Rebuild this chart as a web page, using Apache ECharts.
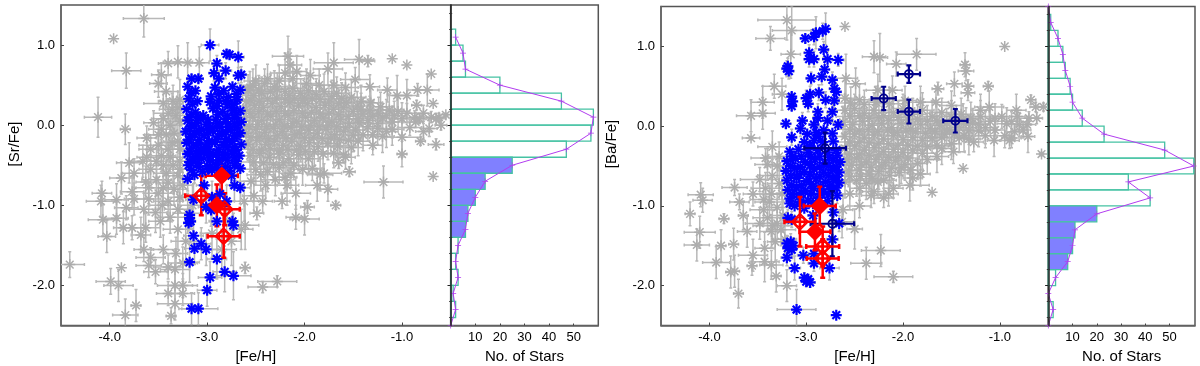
<!DOCTYPE html>
<html>
<head>
<meta charset="utf-8">
<style>html,body{margin:0;padding:0;background:#fff}#main{width:1200px;height:366px}</style>
<script src="https://cdn.jsdelivr.net/npm/echarts@6/dist/echarts.min.js"></script>
</head>
<body>
<div id="main"></div>
<script>
// rows are [Fe/H], [X/Fe], error in Fe/H, error in X/Fe
var srGray = [
[-3.65,1.33,.21,.23],[-3.96,1.08,0,0],[-3.83,.68,.15,.22],[-4.12,.1,.14,.25],[-3.84,-.05,.05,.19],
[-3.4,.77,.1,.15],[-3.3,.79,.15,.2],[-3.2,.78,.1,.25],[-3.08,.78,.1,.2],[-3.47,.63,.1,.15],[-3.5,.52,.09,.17],
[-3.42,.42,.12,.2],[-3.35,.3,.15,.2],[-3.45,.27,.2,.15],[-3.55,.03,.1,.15],[-3.32,.12,.15,.2],[-3.28,.32,.12,.25],
[-3.38,0,.12,.2],[-3.42,-.12,.18,.2],[-3.62,-.16,.1,.15],[-3.3,-.2,.15,.2],[-3.4,-.3,.15,.2],[-3.5,-.25,.2,.15],
[-3.62,-.4,.1,.18],[-3.66,-.45,.15,.2],[-3.8,-.47,.13,.25],[-3.35,-.5,.15,.2],[-3.45,-.5,.15,.2],[-3.75,-.6,.12,.18],
[-3.88,-.66,.12,.2],[-3.3,-.63,.15,.2],[-3.52,-.68,.15,.2],[-3.4,-.72,.12,.2],[-3.63,-.71,.1,.2],[-3.25,-.75,.1,.2],
[-4.41,-1.74,.15,.16],[-3.99,-1.95,.15,.16],[-3.91,-2,.15,.2],[-3.88,-1.78,0,0],[-3.73,-2.25,.05,.2],[-3.84,-2.37,.13,.2],
[-4.03,-1.39,.09,.2],[-4.07,-1.18,.15,.2],[-4.09,-.95,.15,.2],[-4.08,-.85,.1,.15],[-3.93,-.93,.12,.2],[-3.93,-1.16,.12,.2],
[-3.83,-1.03,.12,.15],[-3.86,-1.28,.1,.2],[-3.77,-1.28,.12,.15],[-3.77,-.83,.12,.2],[-3.75,-.92,.1,.2],[-3.68,-1.37,.1,.22],
[-3.63,-1.28,.15,.18],[-3.65,-1.05,.15,.2],[-3.53,-1.09,.12,.25],[-3.38,-1.15,.15,.2],[-3.45,-1.55,.12,.18],[-3.65,-1.55,.1,.15],
[-3.58,-1.65,.15,.12],[-3.6,-1.75,.13,.15],[-3.53,-1.83,.12,.15],[-3.4,-1.77,.15,.15],[-3.33,-1.8,.15,.2],[-3.4,-2.1,.12,.15],
[-3.33,-2,.18,.2],[-3.25,-2,.15,.15],[-3.25,-2.1,.12,.15],[-3.33,-2.23,.18,.2],[-3.37,-2.38,.05,.1],[-3.48,-1.2,.12,.2],
[-3.3,-1.3,.15,.25],[-3.22,-1.45,.15,.25],[-3.32,-1.6,.12,.2],[-3.25,-1.72,.15,.2],[-3.5,-.85,.15,.2],[-3.6,-.92,.12,.2],
[-3.4,-.95,.15,.25],[-3.28,-.9,.12,.2],[-3.15,-1,.15,.25],[-3.2,-1.1,.15,.25],[-2.95,-1.35,.12,.3],[-2.85,-1.55,.15,.25],
[-2.75,-1.45,.1,.3],[-2.65,-1.3,.12,.25],[-2.8,-1.2,.1,.25],[-2.61,-1.78,.05,.07],[-2.61,-1.25,.14,.3],[-2.49,-1.1,.07,.08],
[-2.43,-.95,.1,.15],[-2.23,-.95,.08,.09],[-2.09,-.85,.15,.2],[-2.43,-2.02,.15,.07],[-2.28,-1.95,.2,.07],[-2.09,-1.15,.1,.15],
[-1.97,-1.02,.07,.08],[-1.68,-1,.05,.05],[-1.76,-.8,.1,.15],[-2,-1.17,.15,.2],[-1.87,-.75,.12,.2],[-1.19,-.71,.2,.2],
[-.68,-.64,0,0],[-1.54,-.58,.06,.06],[-1.84,-.62,.13,.2],[-1.8,-.6,.18,.12],[-1.92,-.54,.1,.15],[-1.65,-.47,.06,.07],
[-1.6,-.37,.07,.09],[-1,-.36,.05,.16],[-.65,-.24,.08,.07],[-.81,-.2,.05,.05],[-1.3,-.25,.1,.12],[-1,-.15,.2,.25],
[-.68,.27,0,0],[-.7,.64,0,0],[-.95,.75,0,0],[-1.1,.83,0,0],[-1.35,.8,.07,.07],[-1.44,.82,.15,.25],[-1.7,.78,.2,.25],
[-1.76,.7,.15,.2],[-1.94,.62,.1,.2],[-1.48,.57,.15,.15],[-1.33,.48,.1,.15],[-1.15,.44,.1,.15],[-.84,.44,.1,.08],[-.74,.44,.12,.2],
[-.95,.37,.12,.2],[-1.05,.37,.1,.25],[-.85,.25,.05,.06],[-.55,.13,.02,.02],[-.87,.1,.1,.08],[-.65,.08,.1,.07],[-.7,.1,.08,.07],
[-.6,0,.06,.06],[-.86,.04,.08,.07],[-.62,.1,.07,.05],[-.82,.08,.06,.06],[-.72,-.04,.08,.1],[-.92,-.03,.12,.1],
[-2.17,.86,.16,.25],[-2.15,.75,.12,.2],[-2.2,.65,.15,.25],[-2.08,.67,.1,.2],[-2.53,.5,.12,.2],[-2.41,.52,.12,.18],[-2.58,.43,.1,.2],
[-2.6,.3,.14,.18],[-2.52,.37,.12,.2],[-2.44,.4,.16,.2],[-2.35,.42,.15,.22],[-2.28,.45,.12,.2],[-2.2,.42,.16,.25],[-2.12,.46,.12,.2],
[-2.04,.4,.15,.18],[-1.96,.43,.14,.22],[-1.88,.38,.12,.2],[-1.8,.42,.15,.22],[-1.72,.36,.16,.2],[-1.62,.33,.14,.2],[-1.52,.35,.15,.22],
[-1.42,.3,.13,.2],[-1.32,.28,.12,.2],[-1.22,.23,.14,.18],[-1.13,.19,.15,.2],[-1.04,.17,.12,.2],
[-2.6,.2,.15,.2],[-2.51,.25,.12,.18],[-2.42,.22,.14,.2],[-2.33,.27,.16,.2],[-2.24,.23,.13,.22],[-2.15,.28,.15,.2],[-2.06,.24,.12,.2],
[-1.97,.27,.14,.18],[-1.88,.22,.15,.2],[-1.79,.25,.13,.2],[-1.7,.2,.14,.22],[-1.6,.22,.13,.18],[-1.5,.17,.15,.2],[-1.4,.14,.14,.2],
[-1.3,.11,.12,.2],[-1.2,.09,.15,.18],[-1.1,.04,.12,.2],
[-2.62,.05,.16,.2],[-2.53,.1,.13,.18],[-2.44,.06,.15,.22],[-2.35,.11,.14,.2],[-2.26,.07,.15,.18],[-2.17,.12,.12,.2],[-2.08,.05,.16,.2],
[-1.99,.1,.14,.22],[-1.9,.06,.15,.18],[-1.81,.09,.12,.2],[-1.72,.04,.14,.2],[-1.63,.07,.15,.18],[-1.54,.02,.13,.2],[-1.44,.03,.14,.2],
[-1.35,-.02,.12,.18],[-1.25,-.04,.13,.2],[-1.16,-.08,.12,.2],
[-2.6,-.1,.14,.2],[-2.5,-.05,.15,.18],[-2.41,-.09,.13,.2],[-2.32,-.04,.16,.22],[-2.23,-.08,.14,.18],[-2.14,-.03,.13,.2],[-2.05,-.1,.15,.2],
[-1.96,-.06,.12,.18],[-1.87,-.1,.14,.2],[-1.78,-.05,.15,.2],[-1.69,-.12,.13,.18],[-1.6,-.08,.14,.2],[-1.5,-.13,.12,.2],[-1.4,-.12,.14,.2],
[-2.58,-.24,.14,.2],[-2.49,-.19,.15,.2],[-2.4,-.24,.13,.18],[-2.31,-.2,.14,.22],[-2.22,-.25,.15,.2],[-2.13,-.2,.12,.18],[-2.04,-.26,.14,.2],
[-1.95,-.22,.13,.2],[-1.86,-.27,.15,.18],[-1.76,-.23,.13,.2],[-1.66,-.26,.12,.2],
[-2.56,-.38,.14,.2],[-2.46,-.35,.12,.2],[-2.36,-.4,.15,.18],[-2.26,-.36,.14,.22],[-2.16,-.42,.13,.2],[-2.06,-.37,.15,.2],[-1.96,-.42,.12,.18],
[-2.5,-.55,.15,.2],[-2.38,-.58,.12,.25],[-2.26,-.53,.14,.2],[-2.14,-.6,.12,.18],[-2.02,-.55,.14,.2],[-2.55,-.7,.15,.25],[-2.4,-.75,.12,.2],
[-2.3,-.68,.15,.2],[-2.18,-.75,.12,.25],[-2.52,-.88,.12,.22],[-2.62,-.95,.15,.25],
[-2.56,.47,.13,.2],[-2.47,.44,.12,.18],[-2.31,.48,.14,.2],[-2.16,.37,.13,.2],[-2,.34,.12,.18],[-1.84,.32,.15,.2],[-1.67,.4,.13,.2],[-1.57,.28,.12,.2],[-1.46,.24,.14,.18],
[-2.55,.31,.14,.2],[-2.46,.3,.13,.18],[-2.38,.33,.12,.2],[-2.29,.34,.15,.2],[-2.2,.32,.13,.18],[-2.1,.33,.14,.2],[-2.02,.31,.12,.2],[-1.92,.33,.15,.18],[-1.75,.29,.13,.2],[-1.65,.27,.14,.2],
[-2.56,.15,.13,.18],[-2.47,.17,.14,.2],[-2.38,.14,.12,.2],[-2.29,.17,.15,.18],[-2.2,.15,.13,.2],[-2.11,.18,.14,.2],[-2.02,.15,.12,.18],[-1.93,.16,.15,.2],[-1.84,.14,.13,.2],[-1.75,.15,.14,.18],[-1.65,.13,.12,.2],[-1.55,.11,.14,.2],[-1.45,.08,.13,.18],[-1.35,.06,.12,.2],[-1.25,.02,.14,.18],
[-2.57,-.02,.14,.2],[-2.48,.01,.12,.18],[-2.39,-.02,.15,.2],[-2.3,.01,.13,.2],[-2.21,-.01,.14,.18],[-2.12,.02,.12,.2],[-2.03,-.02,.15,.2],[-1.94,0,.13,.18],[-1.85,-.02,.14,.2],[-1.76,0,.12,.2],[-1.67,-.02,.14,.18],[-1.58,-.03,.13,.2],[-1.48,-.06,.12,.2],
[-2.55,-.15,.13,.2],[-2.46,-.14,.14,.18],[-2.37,-.17,.12,.2],[-2.28,-.13,.15,.2],[-2.19,-.16,.13,.18],[-2.1,-.12,.14,.2],[-2,-.16,.12,.2],[-1.91,-.15,.15,.18],[-1.82,-.17,.13,.2],[-1.73,-.16,.14,.2],[-1.64,-.18,.12,.18],[-1.55,-.19,.13,.2],
[-2.53,-.3,.13,.2],[-2.44,-.31,.14,.18],[-2.35,-.29,.12,.2],[-2.26,-.31,.15,.2],[-2.17,-.3,.13,.18],[-2.08,-.31,.14,.2],[-1.99,-.33,.12,.2],[-1.9,-.33,.14,.18],[-1.81,-.36,.13,.2],
[-2.52,-.46,.13,.2],[-2.42,-.47,.14,.18],[-2.32,-.49,.12,.2],[-2.22,-.47,.14,.2],[-2.11,-.5,.13,.18],[-2.45,-.62,.14,.2],[-2.2,-.65,.12,.2],
[-3.36,.2,.13,.2],[-3.28,.05,.14,.18],[-3.45,.08,.12,.2],[-3.34,-.1,.15,.2],[-3.47,-.05,.13,.18],[-3.28,-.3,.14,.2],[-3.47,-.38,.15,.2],[-3.38,-.4,.13,.18],[-3.28,-.45,.14,.2],[-3.42,-.6,.13,.2],[-3.58,-.55,.12,.18],[-3.28,-.55,.14,.2],
[-3.5,-.12,.14,.2],[-3.58,-.3,.12,.18],[-3.36,-.22,.14,.2],[-3.3,.22,.13,.2],[-3.4,.15,.15,.18],[-3.52,-.45,.14,.2],[-3.34,-.8,.14,.2],[-3.45,-.78,.12,.22],[-3.6,-.78,.13,.2],[-3.3,-1.05,.14,.25],[-3.46,-1,.13,.2],
[-2.5,.55,.12,.2],[-2.38,.58,.13,.18],[-2.26,.55,.12,.2],[-2.12,.58,.12,.2],[-1.98,.52,.13,.18],[-1.85,.5,.14,.2],[-1.7,.5,.12,.2],[-1.58,.47,.13,.18],
[-1.42,.2,.13,.2],[-1.33,.18,.12,.18],[-1.24,.15,.13,.2],[-1.16,.12,.12,.2],[-1.08,.12,.12,.18],[-1,.08,.12,.2],[-1.3,-.12,.12,.18],[-1.2,-.14,.12,.2],[-1.1,-.05,.12,.2],[-1.45,-.2,.12,.18],[-1.52,-.28,.12,.2],[-1.7,-.35,.13,.18],[-1.58,-.4,.1,.15],
[-.95,.15,.1,.12],[-.78,.15,.08,.1],[-.78,-.08,.08,.1]
];
var srBlue = [
[-2.97,1,.09,.2],[-2.8,.89,.05,.05],[-2.77,.88,.05,.05],[-2.68,.85,.06,.2],[-2.9,.77,.05,.1],[-2.81,.68,.06,.1],[-2.93,.65,.05,.1],
[-2.68,.62,.05,.1],[-2.65,.63,.05,.1],[-2.88,.58,.05,.1],[-3.16,.58,.05,.05],[-3.09,.58,.05,.05],
[-3.2,.48,0,0],[-3.12,.43,0,0],[-2.92,.47,0,0],[-2.83,.43,0,0],[-2.74,.48,0,0],[-2.66,.44,0,0],
[-3.19,.33,0,0],[-3.1,.3,0,0],[-2.96,.36,0,0],[-2.88,.31,0,0],[-2.78,.35,0,0],[-2.69,.32,0,0],
[-3.21,.2,0,0],[-3.12,.16,0,0],[-3.04,.12,0,0],[-2.94,.21,0,0],[-2.84,.17,0,0],[-2.75,.22,0,0],[-2.66,.18,0,0],
[-3.2,.06,0,0],[-3.11,.03,0,0],[-3.01,.01,0,0],[-2.91,.07,0,0],[-2.81,.04,0,0],[-2.72,.09,0,0],[-2.65,.04,0,0],
[-3.22,-.08,0,0],[-3.13,-.11,0,0],[-3.03,-.13,0,0],[-2.94,-.07,0,0],[-2.85,-.11,0,0],[-2.76,-.06,0,0],[-2.66,-.1,0,0],
[-3.21,-.22,0,0],[-3.11,-.25,0,0],[-3.02,-.27,0,0],[-2.92,-.21,0,0],[-2.83,-.25,0,0],[-2.74,-.2,0,0],[-2.65,-.24,0,0],
[-3.2,-.36,0,0],[-3.12,-.39,0,0],[-3.03,-.34,0,0],[-2.94,-.37,0,0],[-2.84,-.4,0,0],[-2.75,-.35,0,0],[-2.67,-.38,0,0],
[-3.19,-.5,0,0],[-3.1,-.47,0,0],[-3,-.51,0,0],[-2.91,-.49,0,0],[-2.81,-.52,0,0],[-2.72,-.5,0,0],[-2.66,-.54,0,0],
[-3.16,.4,0,0],[-3.15,.26,0,0],[-2.88,.39,0,0],[-2.79,.26,0,0],[-2.7,.39,0,0],[-2.97,.29,0,0],[-3.16,.13,0,0],[-3.07,.08,0,0],[-2.89,.13,0,0],[-2.79,.12,0,0],[-2.7,.13,0,0],
[-3.16,-.01,0,0],[-3.06,-.05,0,0],[-2.97,-.03,0,0],[-2.87,-.02,0,0],[-2.78,-.02,0,0],[-2.69,-.03,0,0],
[-3.17,-.15,0,0],[-3.08,-.18,0,0],[-2.98,-.2,0,0],[-2.89,-.14,0,0],[-2.8,-.17,0,0],[-2.7,-.14,0,0],
[-3.16,-.29,0,0],[-3.07,-.31,0,0],[-2.98,-.3,0,0],[-2.88,-.3,0,0],[-2.79,-.28,0,0],[-2.7,-.31,0,0],
[-3.15,-.43,0,0],[-3.06,-.42,0,0],[-2.97,-.44,0,0],[-2.88,-.44,0,0],[-2.79,-.44,0,0],[-2.7,-.45,0,0],
[-3.16,-.56,0,0],[-3.05,-.58,0,0],[-2.95,-.56,0,0],[-2.86,-.58,0,0],[-2.77,-.57,0,0],
[-3.18,.1,0,0],[-3.18,-.04,0,0],[-3.18,-.18,0,0],[-3.18,-.33,0,0],[-3.18,-.46,0,0],[-3.09,.1,0,0],[-3.09,-.07,0,0],[-3.09,-.22,0,0],[-3.09,-.35,0,0],[-3.09,-.52,0,0],
[-2.99,.07,0,0],[-2.99,-.09,0,0],[-2.99,-.24,0,0],[-2.99,-.38,0,0],[-2.99,-.55,0,0],[-2.9,.24,0,0],[-2.9,.02,0,0],[-2.9,-.18,0,0],[-2.9,-.34,0,0],[-2.9,-.53,0,0],
[-2.81,.3,0,0],[-2.81,.08,0,0],[-2.81,-.08,0,0],[-2.81,-.21,0,0],[-2.81,-.36,0,0],[-2.72,.27,0,0],[-2.72,.02,0,0],[-2.72,-.13,0,0],[-2.72,-.27,0,0],[-2.72,-.4,0,0],[-2.72,.18,0,0],
[-3.2,-.67,.06,.15],[-3.13,-.62,.06,.1],[-2.75,-.63,.06,.1],[-3.03,-.75,.08,.2],[-2.72,-.75,.08,.2],[-2.66,-.78,.1,.2],
[-3.14,-.93,.08,.2],[-2.95,-.9,.08,.2],[-2.8,-.95,.08,.2],[-2.87,-.86,.06,.2],[-3.01,-1.02,.08,.2],[-2.96,-1.06,.08,.2],
[-3.18,-1.12,.05,.1],[-3.18,-1.16,.05,.1],[-3.17,-1.2,.05,.1],[-3.19,-1.22,.05,.1],[-2.9,-1.2,.08,.2],[-2.74,-1.2,.06,.15],[-2.73,-1.25,.06,.15],
[-3.14,-1.38,.1,.2],[-3.06,-1.48,.1,.2],[-3.13,-1.54,.1,.2],[-3.01,-1.55,.12,.2],[-3.18,-1.71,.1,.25],[-2.9,-1.67,.1,.25],
[-2.97,-1.9,.12,.2],[-3,-2.06,.1,.2],[-3.16,-2.29,.1,.2],[-3.09,-2.29,.2,.2],[-2.82,-1.83,.12,.25],[-2.73,-1.88,.18,.3]
];
var srRed = [[-2.85,-.63,.165,.19],[-3.06,-.88,.165,.245],[-2.9,-1,.11,.26],[-2.82,-1.05,.155,.2],[-2.83,-1.385,.165,.27]];
var srRedFilled = [0, 2];

var baGray = [
[-3.2,1.33,.3,.25],[-3.15,1.2,.2,.3],[-3.37,1.1,.15,.15],[-2.6,1.25,0,0],[-3.16,.9,.1,.3],[-3.33,.5,.12,.15],[-3.45,.3,.12,.2],
[-3.25,.4,.1,.2],[-3.57,.13,.15,.2],[-3.45,.16,.13,.2],[-3.57,-.15,.09,.02],[-3.35,-.26,.15,.2],[-3.42,-.4,.15,.12],[-3.48,-.67,.2,.15],
[-3.3,-.5,.12,.15],[-3.35,-.62,.15,.2],[-3.28,-.72,.12,.2],[-3.42,-.78,.15,.2],[-3.25,-.85,.12,.2],[-3.55,-.85,.1,.15],
[-2.3,.87,.12,.2],[-2.24,.86,.08,.3],[-2.07,.78,.1,.15],[-2.59,.6,.12,.3],[-2.49,.53,.1,.2],[-2.6,.35,.12,.25],[-2.45,.33,.1,.2],
[-2.11,.45,.1,.18],[-2.26,.45,.12,.2],[-1.86,.9,.2,.2],[-1.36,.77,.05,.15],[-1.35,.69,.08,.12],[-.95,1,0,0],[-1.12,.5,.05,.06],
[-1.64,.47,.06,.08],[-1.47,.53,.08,.15],[-1.33,.5,.06,.08],[-1.33,.42,.07,.1],[-.68,.33,.05,.06],[-.83,.2,.1,.2],[-.63,.24,.06,.06],
[-.55,.24,.05,.05],[-1.11,.24,.15,.2],[-1.2,.2,.1,.2],[-.88,-.15,.1,.12],[-.9,-.18,.1,.1],[-.71,-.13,.07,.2],[-1.05,-.05,.1,.15],
[-.7,.1,.1,.08],[-.57,-.35,.02,.02],[-1.38,-.53,0,0],[-1.06,-.18,.07,.2],[-1.27,-.2,.1,.12],[-1.5,-.22,.1,.2],[-1.48,-.32,.12,.15],
[-1.6,-.28,.12,.2],[-1.85,-.47,.1,.2],[-1.82,-.6,.1,.15],[-1.9,-.65,.1,.15],[-.93,.03,.1,.2],[-.8,.02,.12,.15],[-.62,.1,.06,.07],[-.85,-.07,.1,.1],
[-1.7,-.83,0,0],[-1.93,-.74,.2,.2],[-4.2,-1.1,.05,.15],[-4.1,-1.33,.16,.2],[-4.13,-1.49,.13,.2],[-4.09,-.86,.13,.15],[-4.07,-.93,.1,.15],
[-3.85,-1.16,.05,.06],[-3.65,-1.12,.05,.18],[-3.74,-.77,.13,.1],[-3.69,-.95,.1,.1],[-3.61,-1.32,.1,.2],[-3.88,-1.5,.05,.2],[-3.75,-1.48,.05,.2],
[-3.93,-1.71,.14,.2],[-3.78,-1.83,.05,.2],[-3.74,-1.82,.05,.2],[-3.7,-2.1,.05,.18],[-3.55,-1.62,.15,.2],[-3.56,-1.75,.05,.12],[-3.43,-1.53,.1,.2],
[-3.43,-1.7,.15,.25],[-3.36,-1.74,.12,.18],[-3.31,-1.88,.05,.2],[-3.2,-2,.1,.2],[-3.48,-1.22,.15,.2],[-3.38,-.95,.15,.2],[-3.35,-1.25,.2,.2],
[-3.4,-1.15,.15,.15],[-3.3,-1.22,.15,.2],[-3.26,-1.3,.15,.2],[-3.36,-1.32,.12,.2],[-3.32,-1.45,.08,.25],[-3.22,-1.42,.12,.2],
[-2.38,-1.72,.16,.2],[-2.23,-1.56,.2,.2],[-2.1,-1.89,.2,.07],[-2.5,-1.29,.08,.25],[-2.62,-1.05,.1,.2],[-2.45,-1,.12,.15],[-2.33,-.87,.1,.15],
[-2.2,-.9,.1,.12],[-2.3,-.82,.12,.15],[-2.63,-1.2,.12,.2],[-2.45,-.78,.1,.15],[-2.55,-.85,.12,.2],[-2.1,-.78,.1,.12],[-2.15,-.85,.1,.15],
[-2.6,.2,.15,.2],[-2.5,.22,.12,.18],[-2.4,.16,.14,.2],[-2.3,.2,.15,.22],[-2.2,.13,.12,.2],[-2.1,.17,.14,.2],[-2,.22,.12,.18],[-1.9,.15,.14,.2],
[-1.8,.2,.12,.22],[-1.7,.12,.13,.2],[-1.6,.17,.12,.18],[-1.5,.12,.14,.2],[-1.4,.15,.13,.2],[-1.3,.1,.12,.2],[-1.2,.12,.13,.2],[-1.1,.06,.12,.18],
[-2.62,.05,.14,.2],[-2.52,.02,.13,.2],[-2.42,.06,.15,.18],[-2.32,.01,.13,.2],[-2.22,.03,.14,.22],[-2.12,-.02,.12,.2],[-2.02,.03,.14,.18],[-1.92,-.03,.13,.2],
[-1.82,.02,.12,.2],[-1.72,-.03,.15,.2],[-1.62,.01,.12,.18],[-1.52,-.05,.14,.2],[-1.42,-.02,.12,.2],[-1.32,-.05,.13,.18],[-1.22,-.06,.12,.2],
[-2.6,-.13,.15,.2],[-2.5,-.1,.13,.18],[-2.4,-.15,.14,.2],[-2.3,-.11,.15,.2],[-2.2,-.16,.13,.22],[-2.1,-.12,.14,.2],[-2,-.17,.12,.18],[-1.9,-.14,.15,.2],
[-1.8,-.18,.13,.2],[-1.7,-.15,.12,.18],[-1.6,-.14,.14,.2],
[-2.6,-.28,.14,.2],[-2.5,-.25,.15,.2],[-2.4,-.3,.13,.18],[-2.3,-.27,.14,.2],[-2.2,-.32,.15,.22],[-2.1,-.29,.12,.2],[-2,-.33,.14,.18],[-1.9,-.3,.12,.2],[-1.8,-.34,.14,.2],
[-2.58,-.42,.15,.2],[-2.48,-.4,.13,.18],[-2.38,-.45,.14,.2],[-2.28,-.42,.15,.22],[-2.18,-.46,.12,.2],[-2.08,-.43,.14,.2],[-1.98,-.48,.13,.2],
[-2.56,-.56,.13,.2],[-2.45,-.55,.14,.18],[-2.35,-.6,.15,.2],[-2.25,-.57,.12,.22],[-2.14,-.62,.14,.2],[-2.04,-.58,.12,.18],
[-2.6,-.7,.12,.2],[-2.48,-.68,.14,.2],[-2.38,-.72,.12,.2],[-2.26,-.7,.14,.2],
[-2.55,.12,.14,.2],[-2.45,.13,.12,.18],[-2.35,.1,.15,.2],[-2.25,.11,.13,.2],[-2.15,.07,.14,.18],[-2.05,.11,.12,.2],[-1.95,.08,.14,.2],[-1.85,.09,.13,.18],[-1.75,.06,.12,.2],[-1.65,.07,.14,.2],[-1.55,.04,.13,.18],[-1.45,.06,.12,.2],[-1.35,.03,.14,.2],
[-2.55,-.04,.13,.2],[-2.45,-.06,.14,.18],[-2.36,-.04,.12,.2],[-2.26,-.07,.15,.2],[-2.16,-.05,.13,.18],[-2.06,-.08,.14,.2],[-1.97,-.06,.12,.2],[-1.87,-.07,.14,.18],[-1.77,-.09,.13,.2],[-1.67,-.07,.12,.2],[-1.57,-.1,.14,.18],[-1.47,-.1,.13,.2],[-1.37,-.12,.12,.2],
[-2.55,-.2,.14,.18],[-2.45,-.2,.12,.2],[-2.35,-.21,.15,.2],[-2.25,-.22,.13,.18],[-2.15,-.22,.14,.2],[-2.05,-.24,.12,.2],[-1.95,-.24,.14,.18],[-1.85,-.25,.13,.2],[-1.75,-.26,.12,.2],[-1.65,-.24,.14,.18],
[-2.55,-.35,.13,.2],[-2.45,-.35,.14,.18],[-2.35,-.37,.12,.2],[-2.25,-.36,.15,.2],[-2.15,-.39,.13,.18],[-2.05,-.38,.14,.2],[-1.95,-.4,.12,.2],
[-2.53,-.49,.13,.2],[-2.43,-.48,.14,.18],[-2.33,-.52,.12,.2],[-2.22,-.5,.14,.2],[-2.12,-.53,.13,.18],[-2.02,-.52,.12,.2],
[-2.55,-.63,.13,.2],[-2.44,-.63,.14,.2],[-2.32,-.66,.12,.18],[-2.2,-.68,.13,.2],[-2.54,.29,.13,.2],[-2.4,.27,.14,.18],[-2.28,.3,.12,.2],[-2.14,.28,.14,.2],[-1.98,.32,.12,.18],[-1.82,.3,.14,.2],[-1.66,.3,.13,.2],[-1.5,.26,.12,.18],
[-3.4,-.48,.13,.2],[-3.28,-.38,.14,.18],[-3.36,-.85,.12,.2],[-3.44,-.92,.14,.2],[-3.3,-1.02,.13,.18],[-3.24,-1.12,.12,.2],[-3.44,-1.05,.14,.2],[-1.05,.1,.1,.18],[-.95,-.12,.1,.15],[-1.15,-.12,.12,.15],[-.82,.12,.08,.1],[-.72,.02,.09,.1],
[-1.75,-.42,.12,.18],[-1.65,-.38,.12,.2],[-1.92,-.55,.12,.18],[-1.55,-.05,.13,.2],[-1.22,.02,.12,.18],[-1.15,-.02,.12,.2],[-1.28,.04,.12,.18],[-1.38,.08,.12,.2],[-1.42,-.15,.12,.18],[-1.32,-.16,.12,.2],[-.98,.12,.1,.15],[-.88,.06,.1,.12],[-.76,-.05,.08,.1]
];
var baBlue = [
[-2.8,1.22,.05,.2],[-2.83,1.19,.06,.1],[-2.9,1.17,.05,.2],[-2.92,1.12,.05,.1],[-3.01,1.1,.05,.05],[-2.97,.92,.05,.1],[-2.97,.84,.05,.1],
[-2.92,.84,.05,.1],[-2.82,.96,.05,.1],[-2.78,.84,.05,.1],[-2.67,.83,.06,.08],[-3.19,.75,.05,.1],[-3.2,.72,.05,.1],[-3.18,.69,.05,.1],[-2.81,.71,.05,.1],
[-2.84,.62,.05,.1],[-2.95,.6,.05,.08],[-2.73,.58,.05,.1],[-2.71,.47,.05,.1],[-2.69,.43,.05,.1],[-2.87,.42,.05,.1],[-2.96,.4,.05,.1],[-3,.35,.05,.1],
[-3.15,.37,.03,.05],[-3.15,.25,.03,.05],[-3.14,.31,.03,.05],[-2.98,.28,.05,.1],[-2.8,.33,.05,.1],[-2.71,.32,.05,.1],[-2.73,.18,.05,.1],[-2.88,.18,.05,.1],
[-2.88,.1,.05,.1],[-3.21,.03,.05,.05],[-3.04,.07,.05,.1],[-3.06,-.03,.05,.1],[-2.92,.02,.05,.1],[-2.78,.07,.05,.1],[-2.67,.02,.05,.05],[-3.15,-.14,.05,.1],
[-2.99,-.1,0,0],[-2.9,-.08,0,0],[-2.82,-.05,0,0],[-2.73,-.09,0,0],[-3.02,-.2,0,0],[-2.92,-.18,0,0],[-2.83,-.2,0,0],[-2.72,-.19,0,0],
[-3.17,-.32,0,0],[-3.08,-.29,0,0],[-2.98,-.33,0,0],[-2.88,-.3,0,0],[-2.78,-.33,0,0],[-2.69,-.3,0,0],
[-3.2,-.44,0,0],[-3.11,-.41,0,0],[-3.01,-.45,0,0],[-2.91,-.42,0,0],[-2.81,-.46,0,0],[-2.72,-.43,0,0],[-2.65,-.45,0,0],
[-3.21,-.56,0,0],[-3.12,-.53,0,0],[-3.02,-.57,0,0],[-2.92,-.54,0,0],[-2.82,-.58,0,0],[-2.73,-.55,0,0],[-2.66,-.58,0,0],
[-3.2,-.68,0,0],[-3.1,-.65,0,0],[-3,-.69,0,0],[-2.9,-.66,0,0],[-2.8,-.7,0,0],[-2.72,-.67,0,0],[-2.66,-.71,0,0],
[-3.19,-.8,0,0],[-3.1,-.77,0,0],[-3.01,-.81,0,0],[-2.92,-.78,0,0],[-2.82,-.82,0,0],[-2.74,-.79,0,0],[-2.68,-.87,.06,.1],
[-3.17,-.91,0,0],[-3.08,-.89,0,0],[-2.98,-.93,0,0],[-2.88,-.9,0,0],[-2.78,-.94,0,0],[-3.12,-1,0,0],[-3.02,-1.03,0,0],
[-3.14,-.38,0,0],[-3.05,-.38,0,0],[-2.95,-.38,0,0],[-2.86,-.38,0,0],[-2.76,-.39,0,0],[-2.68,-.37,0,0],
[-3.16,-.5,0,0],[-3.06,-.51,0,0],[-2.96,-.49,0,0],[-2.86,-.51,0,0],[-2.77,-.5,0,0],[-2.69,-.51,0,0],
[-3.16,-.62,0,0],[-3.07,-.61,0,0],[-2.96,-.61,0,0],[-2.86,-.63,0,0],[-2.77,-.62,0,0],[-2.69,-.64,0,0],
[-3.15,-.74,0,0],[-3.05,-.74,0,0],[-2.95,-.73,0,0],[-2.85,-.75,0,0],[-2.76,-.75,0,0],[-2.69,-.77,0,0],
[-3.14,-.85,0,0],[-3.05,-.84,0,0],[-2.95,-.85,0,0],[-2.85,-.85,0,0],[-2.77,-.86,0,0],[-3.06,-.95,0,0],[-2.93,-.97,0,0],[-3.17,-.97,0,0],[-2.96,-.25,0,0],[-2.87,-.13,0,0],
[-3.19,-1.15,.06,.1],[-3.15,-1.17,.06,.1],[-2.93,-1.12,.05,.15],[-2.72,-1.08,.06,.2],[-2.66,-1.22,.05,.1],[-2.73,-1.42,.06,.2],[-2.92,-1.6,.06,.1],
[-3.2,-1.47,.05,.1],[-3.16,-1.45,.05,.1],[-3.19,-1.53,.05,.1],[-3.13,-1.5,.05,.1],[-3.15,-1.55,.05,.1],[-3.2,-1.65,.06,.1],[-3.12,-1.78,.06,.15],
[-3.03,-1.62,.06,.1],[-2.92,-1.72,.06,.1],[-2.76,-1.78,.1,.15],[-3.02,-1.9,.05,.06],[-2.98,-1.92,.05,.06],[-3,-1.95,.05,.06],[-2.96,-1.96,.05,.06],
[-3.1,-2.3,.2,.25],[-2.69,-2.37,0,0]
];
var baRed = [[-2.86,-1,.165,.24],[-3.065,-1.2,.16,.31],[-2.91,-1.325,.16,.23],[-2.83,-1.51,.17,.25],[-2.83,-1.66,.165,.24]];
var baRedFilled = [0, 2];
var baNavy = [[-2.805,-.276,.215,.195],[-2.2,.347,.125,.147],[-1.94,.653,.115,.11],[-1.94,.183,.115,.15],[-1.46,.067,.125,.147],[-2.73,-1.224,.225,.41]];

var srBinCenters = [1.1,.9,.7,.5,.3,.1,-.1,-.3,-.5,-.7,-.9,-1.1,-1.3,-1.5,-1.7,-1.9,-2.1,-2.3,-2.5];
var srCounts = [2,5,6,20,45,58,57,47,25,14,10,7,6,3,2,3,1,2,0];
var srFilledBins = [-.5,-.7,-.9,-1.1,-1.3];
var baBinCenters = [1.5,1.3,1.1,.9,.7,.5,.3,.1,-.1,-.3,-.5,-.7,-.9,-1.1,-1.3,-1.5,-1.7,-1.9,-2.1,-2.3,-2.5];
var baCounts = [0,1,4,6,7,9,10,14,23,48,60,33,42,20,11,10,8,3,0,2,0];
var baFilledBins = [-1.1,-1.3,-1.5,-1.7];

var xTicks = [-4,-3,-2,-1];
var yTicks = [-2,-1,0,1];
var yMinorTicks = [-2.4,-2.2,-1.8,-1.6,-1.4,-1.2,-.8,-.6,-.4,-.2,.2,.4,.6,.8,1.2,1.4];
var countTicks = [10,20,30,40,50];

var FONT = '"Liberation Sans", Arial, sans-serif';
var GRAY = '#adadad';
var BLUE = '#0000ff';
var RED = '#ff0000';
var NAVY = '#00008b';

function seg(x1, y1, x2, y2, style) {
  return {type: 'line', shape: {x1: x1, y1: y1, x2: x2, y2: y2}, style: style};
}

// error bars with caps
function errSeries(data, color, width, cap, axisIndex) {
  return {
    type: 'custom', xAxisIndex: axisIndex, yAxisIndex: axisIndex, clip: true, silent: true, data: data, z: 2,
    renderItem: function (params, api) {
      var c = api.coord([api.value(0), api.value(1)]);
      var ex = api.value(2), ey = api.value(3);
      if (!ex && !ey) return {type: 'group', children: []};
      var l = api.coord([api.value(0) - ex, api.value(1)]);
      var r = api.coord([api.value(0) + ex, api.value(1)]);
      var t = api.coord([api.value(0), api.value(1) + ey]);
      var b = api.coord([api.value(0), api.value(1) - ey]);
      var st = {stroke: color, lineWidth: width, fill: null};
      return {type: 'group', children: [
        seg(l[0], c[1], r[0], c[1], st), seg(c[0], t[1], c[0], b[1], st),
        seg(l[0], c[1] - cap, l[0], c[1] + cap, st), seg(r[0], c[1] - cap, r[0], c[1] + cap, st),
        seg(c[0] - cap, t[1], c[0] + cap, t[1], st), seg(c[0] - cap, b[1], c[0] + cap, b[1], st)
      ]};
    }
  };
}

// eight armed asterisk
function starSeries(data, color, width, size, axisIndex, z) {
  return {
    type: 'custom', xAxisIndex: axisIndex, yAxisIndex: axisIndex, clip: true, silent: true, data: data, z: z,
    renderItem: function (params, api) {
      var c = api.coord([api.value(0), api.value(1)]);
      var r = size, d = size * .7;
      var st = {stroke: color, lineWidth: width, fill: null};
      return {type: 'group', children: [
        seg(c[0] - r, c[1], c[0] + r, c[1], st), seg(c[0], c[1] - r, c[0], c[1] + r, st),
        seg(c[0] - d, c[1] - d, c[0] + d, c[1] + d, st), seg(c[0] - d, c[1] + d, c[0] + d, c[1] - d, st)
      ]};
    }
  };
}

// diamond or circle marker with a cross, filled diamonds for the given rows
function openSeries(data, color, filled, axisIndex, z, radius, diamond) {
  return {
    type: 'custom', xAxisIndex: axisIndex, yAxisIndex: axisIndex, silent: true, data: data, z: z,
    renderItem: function (params, api) {
      var c = api.coord([api.value(0), api.value(1)]);
      var st = {stroke: color, lineWidth: 1.8, fill: null};
      var kids = [];
      if (diamond) {
        var on = filled.indexOf(params.dataIndex) >= 0;
        kids.push({type: 'polygon', shape: {points: [[c[0] - radius, c[1]], [c[0], c[1] - radius], [c[0] + radius, c[1]], [c[0], c[1] + radius]]},
          style: {stroke: color, lineWidth: 1.8, fill: on ? color : null}});
        if (!on) kids.push({type: 'circle', shape: {cx: c[0], cy: c[1], r: radius * .6}, style: st});
      } else {
        kids.push({type: 'circle', shape: {cx: c[0], cy: c[1], r: radius}, style: st});
      }
      return {type: 'group', children: kids};
    }
  };
}

function histBars(centers, counts, filledBins, axisIndex) {
  var rows = centers.map(function (c, i) { return [c, counts[i], filledBins.indexOf(c) >= 0 ? 1 : 0]; });
  return {
    type: 'custom', xAxisIndex: axisIndex, yAxisIndex: axisIndex, silent: true, data: rows, z: 2,
    encode: {x: 1, y: 0},
    renderItem: function (params, api) {
      var n = api.value(1);
      if (!n) return {type: 'group', children: []};
      var a = api.coord([0, api.value(0) + .1]);
      var b = api.coord([n, api.value(0) - .1]);
      return {type: 'rect', shape: {x: a[0], y: a[1], width: b[0] - a[0], height: b[1] - a[1]},
        style: {fill: api.value(2) ? '#8080ff' : null, stroke: '#45c2a3', lineWidth: 1.3}};
    }
  };
}

function histLine(centers, counts, axisIndex) {
  return {
    type: 'line', xAxisIndex: axisIndex, yAxisIndex: axisIndex, silent: true, z: 4, clip: false,
    data: centers.map(function (c, i) { return [counts[i], c]; }),
    lineStyle: {color: '#b23cf0', width: 1},
    itemStyle: {color: '#b23cf0'},
    symbol: 'path://M0 2.2H2.2V0H2.8V2.2H5V2.8H2.8V5H2.2V2.8H0Z', symbolSize: 6,
    showSymbol: true, animation: false
  };
}

function scatterX(grid, name) {
  return {type: 'value', gridIndex: grid, min: -4.5, max: -.5, name: name, nameLocation: 'middle', nameGap: 24,
    nameTextStyle: {fontFamily: FONT, fontSize: 15, color: '#000'},
    splitLine: {show: false}, axisLine: {onZero: false, lineStyle: {color: '#666', width: 1.5}},
    axisTick: {inside: true, length: 3, lineStyle: {color: '#444'}, customValues: xTicks},
    axisLabel: {fontFamily: FONT, fontSize: 13, color: '#000', margin: 5, customValues: xTicks, formatter: function (v) { return v.toFixed(1); }}};
}
function scatterY(grid) {
  return {type: 'value', gridIndex: grid, min: -2.5, max: 1.5, splitLine: {show: false},
    axisLine: {onZero: false, lineStyle: {color: '#666', width: 1.5}},
    axisTick: {inside: true, length: 3, lineStyle: {color: '#444'}, customValues: yTicks},
    axisLabel: {fontFamily: FONT, fontSize: 13, color: '#000', margin: 6, customValues: yTicks, formatter: function (v) { return v.toFixed(1); }}};
}
function histX(grid, max) {
  return {type: 'value', gridIndex: grid, min: 0, max: max, name: 'No. of Stars', nameLocation: 'middle', nameGap: 24,
    nameTextStyle: {fontFamily: FONT, fontSize: 15, color: '#000'},
    splitLine: {show: false}, axisLine: {onZero: false, lineStyle: {color: '#666', width: 1.5}},
    axisTick: {inside: true, length: 2, lineStyle: {color: '#444'}, customValues: countTicks},
    axisLabel: {fontFamily: FONT, fontSize: 13, color: '#000', margin: 5, customValues: countTicks}};
}
function histY(grid) {
  return {type: 'value', gridIndex: grid, min: -2.5, max: 1.5, splitLine: {show: false}, z: 5,
    axisLine: {onZero: false, lineStyle: {color: '#222', width: 1.5}},
    axisTick: {length: 3, lineStyle: {color: '#222'}, customValues: yTicks},
    axisLabel: {show: false}};
}
// extra y axes that only carry tick marks
function minorY(grid, inside) {
  return {type: 'value', gridIndex: grid, min: -2.5, max: 1.5, splitLine: {show: false}, z: 5,
    axisLine: {show: false}, axisLabel: {show: false},
    axisTick: {inside: inside, length: 1.5, lineStyle: {color: '#333'}, customValues: yMinorTicks}};
}
function frameY(grid) {
  return {type: 'value', gridIndex: grid, position: 'right', min: -2.5, max: 1.5, splitLine: {show: false},
    axisLine: {show: false}, axisLabel: {show: false},
    axisTick: {inside: true, length: 3, lineStyle: {color: '#333'}, customValues: yTicks}};
}

var chart = echarts.init(document.getElementById('main'), null, {renderer: 'canvas'});
var gridBase = {show: true, outerBoundsMode: 'none', borderColor: '#555', borderWidth: 1.5, backgroundColor: '#fff'};

chart.setOption({
  animation: false,
  grid: [
    Object.assign({left: 61, width: 389.7, top: 5, height: 320.5}, gridBase),
    Object.assign({left: 450.7, width: 147.6, top: 5, height: 320.5}, gridBase),
    Object.assign({left: 661, width: 387.3, top: 6.5, height: 319}, gridBase),
    Object.assign({left: 1048.3, width: 146.7, top: 6.5, height: 319}, gridBase)
  ],
  xAxis: [
    scatterX(0, '[Fe/H]'), histX(1, 60), scatterX(2, '[Fe/H]'), histX(3, 60.5),
    {gridIndex: 0, show: false, min: -4.5, max: -.5}, {gridIndex: 1, show: false, min: 0, max: 60},
    {gridIndex: 2, show: false, min: -4.5, max: -.5}, {gridIndex: 3, show: false, min: 0, max: 60.5},
    {gridIndex: 1, show: false, min: 0, max: 60}, {gridIndex: 3, show: false, min: 0, max: 60.5}
  ],
  yAxis: [
    scatterY(0), histY(1), scatterY(2), histY(3),
    minorY(0, true), minorY(1, false), minorY(2, true), minorY(3, false),
    frameY(1), frameY(3)
  ],
  graphic: [
    {type: 'text', x: 15, y: 144, rotation: Math.PI / 2, style: {text: '[Sr/Fe]', font: '15px ' + FONT, fill: '#000', align: 'center', verticalAlign: 'middle'}},
    {type: 'text', x: 612, y: 144, rotation: Math.PI / 2, style: {text: '[Ba/Fe]', font: '15px ' + FONT, fill: '#000', align: 'center', verticalAlign: 'middle'}}
  ],
  series: [
    errSeries(srGray, '#b8b8b8', 1.5, 1.5, 0),
    starSeries(srGray, GRAY, 1.5, 5.5, 0, 2),
    errSeries(srBlue, '#b8b8b8', 1.5, 1.5, 0),
    starSeries(srBlue, BLUE, 2.2, 5.5, 0, 3),
    errSeries(srRed, RED, 2.5, 2.5, 0),
    openSeries(srRed, RED, srRedFilled, 0, 6, 8, true),
    histBars(srBinCenters, srCounts, srFilledBins, 1),
    histLine(srBinCenters, srCounts, 1),
    errSeries(baGray, '#b8b8b8', 1.5, 1.5, 2),
    starSeries(baGray, GRAY, 1.5, 5.5, 2, 2),
    errSeries(baBlue, '#b8b8b8', 1.5, 1.5, 2),
    starSeries(baBlue, BLUE, 2.2, 5.5, 2, 3),
    Object.assign(errSeries(baNavy, NAVY, 2.2, 2.5, 2), {z: 4}),
    openSeries(baNavy, NAVY, [], 2, 4, 4, false),
    Object.assign(errSeries(baRed, RED, 2.5, 2.5, 2), {z: 5}),
    openSeries(baRed, RED, baRedFilled, 2, 6, 8, true),
    histBars(baBinCenters, baCounts, baFilledBins, 3),
    histLine(baBinCenters, baCounts, 3)
  ]
});
</script>
</body>
</html>
